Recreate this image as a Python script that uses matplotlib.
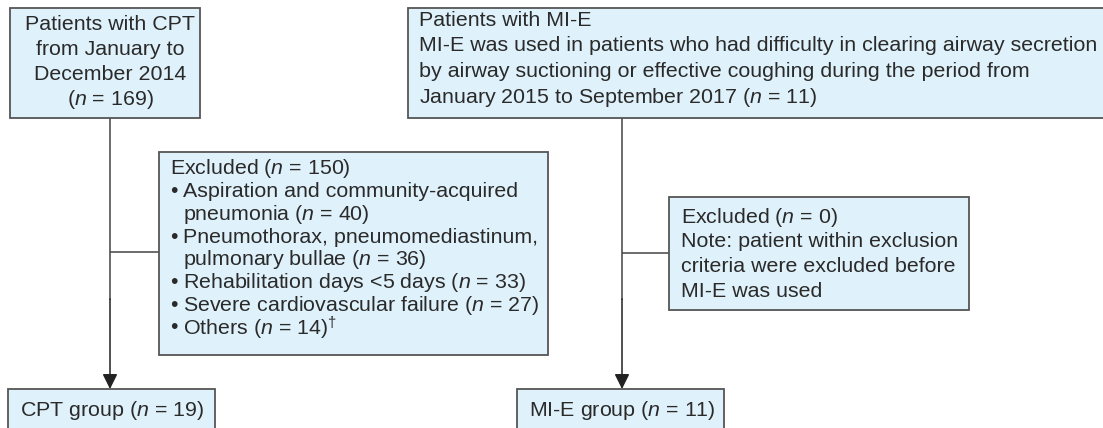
import matplotlib
matplotlib.use("Agg")
import matplotlib.pyplot as plt
from matplotlib.patches import Rectangle

plt.rcParams['mathtext.fontset'] = 'custom'
plt.rcParams['mathtext.rm'] = 'Liberation Sans'
plt.rcParams['mathtext.it'] = 'Liberation Sans:italic'

N = r"$\it{n}$"

cpt_start = ["Patients with CPT", "from January to", "December 2014", f"({N} = 169)"]
mie_start = ["Patients with MI-E",
             "MI-E was used in patients who had difficulty in clearing airway secretion",
             "by airway suctioning or effective coughing during the period from",
             f"January 2015 to September 2017 ({N} = 11)"]
excl_cpt_title = f"Excluded ({N} = 150)"
excl_cpt_items = [["Aspiration and community-acquired", f"pneumonia ({N} = 40)"],
                  ["Pneumothorax, pneumomediastinum,", f"pulmonary bullae ({N} = 36)"],
                  [f"Rehabilitation days <5 days ({N} = 33)"],
                  [f"Severe cardiovascular failure ({N} = 27)"],
                  [f"Others ({N} = 14)" + r"$^{\dagger}$"]]
excl_mie = [f"Excluded ({N} = 0)", "Note: patient within exclusion",
            "criteria were excluded before", "MI-E was used"]
cpt_group = f"CPT group ({N} = 19)"
mie_group = f"MI-E group ({N} = 11)"

W, H = 1103, 428
fig = plt.figure(figsize=(W / 100, H / 100), dpi=100)
ax = fig.add_axes([0, 0, 1, 1])
ax.set_xlim(0, W)
ax.set_ylim(H, 0)
ax.axis('off')

FILL = '#dff1fa'
EDGE = '#555555'
LINE = '#444444'
TXT = '#2a2a2a'
FS = 15.4
FAM = 'Liberation Sans'


def box(x0, y0, x1, y1):
    ax.add_patch(Rectangle((x0, y0), x1 - x0, y1 - y0, facecolor=FILL,
                           edgecolor=EDGE, lw=1.3, zorder=2, clip_on=False))


def line(xs, ys):
    ax.plot(xs, ys, color=LINE, lw=1.1, zorder=1, solid_capstyle='butt')


def arrow(x, y0, y1):
    ax.annotate('', xy=(x, y1), xytext=(x, y0),
                arrowprops=dict(arrowstyle='-|>,head_length=0.9,head_width=0.45',
                                color='#222222', lw=1.1, shrinkA=0, shrinkB=0),
                zorder=3)


def txt(x, y, s, ha='left'):
    ax.text(x, y, s, ha=ha, va='center', fontsize=FS, family=FAM,
            color=TXT, zorder=4)


# boxes
box(10, 8, 200, 118)
box(408, 8, 1110, 118)
box(159, 152, 548, 355)
box(669, 197, 969, 310)
box(8, 389, 215, 440)
box(517, 389, 724, 440)

# connectors
line([110, 110], [118, 300])
arrow(110, 299, 389)
line([110, 159], [252, 252])
line([622, 622], [118, 300])
arrow(622, 299, 389)
line([622, 669], [253, 253])

# texts
for i, t in enumerate(cpt_start):
    txt(110, 24 + i * 25, t, ha='center')

for i, t in enumerate(mie_start):
    txt(419, 20 + i * 25.7, t)

txt(170, 169, excl_cpt_title)
row = 1
for item in excl_cpt_items:
    for j, t in enumerate(item):
        y = 169 + row * 22.7
        if j == 0:
            txt(170, y, "•")
        txt(183, y, t)
        row += 1

for i, t in enumerate(excl_mie):
    txt(681, 217 + i * 24.7, t)

txt(20, 410, cpt_group)
txt(529, 410, mie_group)

fig.savefig('out.png', dpi=100)
